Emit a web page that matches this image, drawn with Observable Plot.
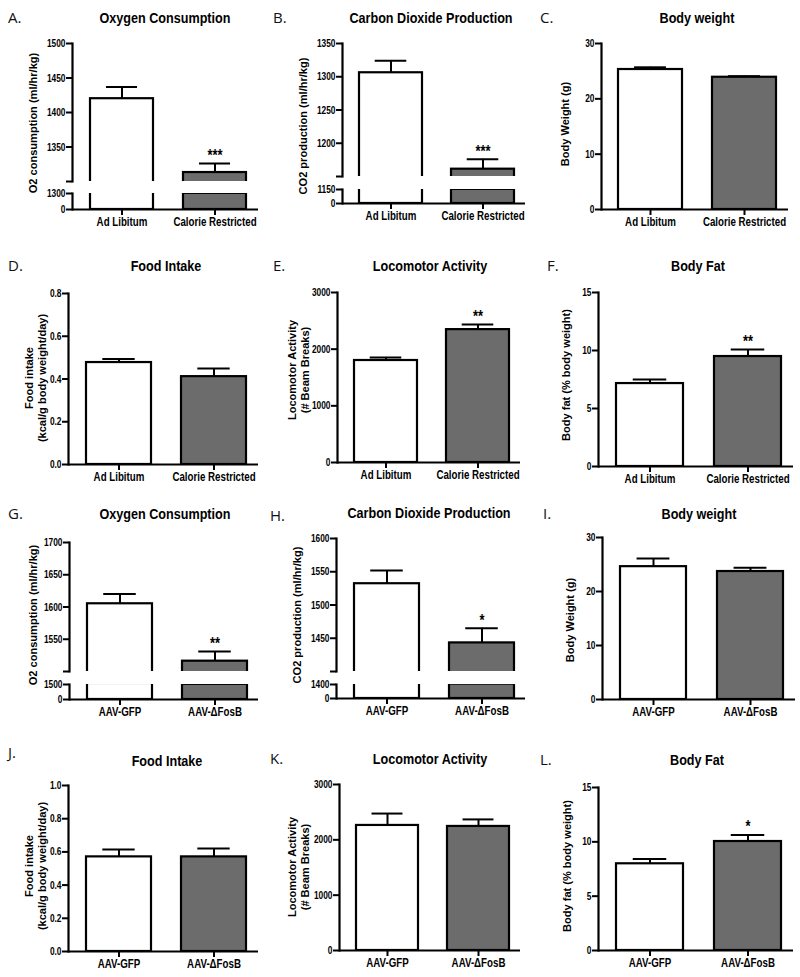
<!DOCTYPE html>
<html><head><meta charset="utf-8">
<script src="https://cdn.jsdelivr.net/npm/d3@7"></script>
<script src="https://cdn.jsdelivr.net/npm/@observablehq/plot@0.6"></script>
<style>
body{margin:0;background:#fff;}
#fig{position:relative;width:800px;height:977px;overflow:hidden;background:#fff;}
#fig svg{position:absolute;overflow:visible;}
#fig svg text{font-weight:bold;}
#fig svg g[aria-label$="tick"], #fig svg g[aria-label$="tick"] line, #fig svg g[aria-label$="tick"] path{stroke:#000 !important;stroke-width:2px !important;stroke-opacity:1 !important;}
.letter{position:absolute;font-family:"Open Sans",sans-serif;font-size:15px;color:#111;transform:translateY(-50%);white-space:nowrap;}
.title{position:absolute;font-family:"Liberation Sans",Arial,sans-serif;font-weight:bold;font-size:15px;white-space:nowrap;transform:translate(-50%,-50%) scaleX(0.84);color:#000;}
.ylab{position:absolute;font-family:"Liberation Sans",Arial,sans-serif;font-weight:bold;font-size:11.5px;line-height:13px;white-space:nowrap;text-align:center;transform:translate(-50%,-50%) rotate(-90deg) scaleX(0.96);color:#000;}
</style></head><body><div id="fig"></div>
<script>
// ---------- data ----------
const groupsCR = ["Ad Libitum", "Calorie Restricted"];
const groupsAAV = ["AAV-GFP", "AAV-\u0394FosB"];
const letters = ["A.","B.","C.","D.","E.","F.","G.","H.","I.","J.","K.","L."];
const titles = ["Oxygen Consumption","Carbon Dioxide Production","Body weight","Food Intake","Locomotor Activity","Body Fat",
                "Oxygen Consumption","Carbon Dioxide Production","Body weight","Food Intake","Locomotor Activity","Body Fat"];
const yLabels = [["O2 consumption (ml/hr/kg)"],["CO2 production (ml/hr/kg)"],["Body Weight (g)"],
                 ["Food intake","(kcal/g body weight/day)"],["Locomotor Activity","(# Beam Breaks)"],["Body fat (% body weight)"],
                 ["O2 consumption (ml/hr/kg)"],["CO2 production (ml/hr/kg)"],["Body Weight (g)"],
                 ["Food intake","(kcal/g body weight/day)"],["Locomotor Activity","(# Beam Breaks)"],["Body fat (% body weight)"]];

const o2CR = [1420, 1313],   o2CRsem = [17, 13],    sigO2CR = ["", "***"];
const co2CR = [1306, 1161],  co2CRsem = [18, 15],   sigCO2CR = ["", "***"];
const bwCR = [25.3, 23.9],   bwCRsem = [0.4, 0.2],  sigBwCR = ["", ""];
const foodCR = [0.477, 0.411], foodCRsem = [0.017, 0.038], sigFoodCR = ["", ""];
const locoCR = [1800, 2345], locoCRsem = [52, 90],  sigLocoCR = ["", "**"];
const fatCR = [7.15, 9.48],  fatCRsem = [0.35, 0.6], sigFatCR = ["", "**"];

const o2AAV = [1605, 1516],  o2AAVsem = [15, 15],   sigO2AAV = ["", "**"];
const co2AAV = [1532, 1443], co2AAVsem = [20, 22],  sigCO2AAV = ["", "*"];
const bwAAV = [24.6, 23.7],  bwAAVsem = [1.5, 0.7], sigBwAAV = ["", ""];
const foodAAV = [0.57, 0.57], foodAAVsem = [0.045, 0.05], sigFoodAAV = ["", ""];
const locoAAV = [2260, 2242], locoAAVsem = [215, 127], sigLocoAAV = ["", ""];
const fatAAV = [7.98, 10.03], fatAAVsem = [0.45, 0.6], sigFatAAV = ["", "*"];

const ticksO2CR = [0, 1300, 1350, 1400, 1450, 1500], breakO2CR = 1300;
const ticksCO2CR = [0, 1150, 1200, 1250, 1300, 1350], breakCO2CR = 1150;
const ticksO2AAV = [0, 1500, 1550, 1600, 1650, 1700], breakO2AAV = 1500;
const ticksCO2AAV = [0, 1400, 1450, 1500, 1550, 1600], breakCO2AAV = 1400;
const ticksBw = [0, 10, 20, 30];
const ticksFoodCR = [0, 0.2, 0.4, 0.6, 0.8];
const ticksFoodAAV = [0, 0.2, 0.4, 0.6, 0.8, 1.0];
const ticksLoco = [0, 1000, 2000, 3000];
const ticksFat = [0, 5, 10, 15];

const panels = [
  {groups: groupsCR, mean: o2CR, sem: o2CRsem, sig: sigO2CR, ticks: ticksO2CR, brk: breakO2CR, fmt: "d"},
  {groups: groupsCR, mean: co2CR, sem: co2CRsem, sig: sigCO2CR, ticks: ticksCO2CR, brk: breakCO2CR, fmt: "d"},
  {groups: groupsCR, mean: bwCR, sem: bwCRsem, sig: sigBwCR, ticks: ticksBw, brk: null, fmt: "d"},
  {groups: groupsCR, mean: foodCR, sem: foodCRsem, sig: sigFoodCR, ticks: ticksFoodCR, brk: null, fmt: ".1f"},
  {groups: groupsCR, mean: locoCR, sem: locoCRsem, sig: sigLocoCR, ticks: ticksLoco, brk: null, fmt: "d"},
  {groups: groupsCR, mean: fatCR, sem: fatCRsem, sig: sigFatCR, ticks: ticksFat, brk: null, fmt: "d"},
  {groups: groupsAAV, mean: o2AAV, sem: o2AAVsem, sig: sigO2AAV, ticks: ticksO2AAV, brk: breakO2AAV, fmt: "d"},
  {groups: groupsAAV, mean: co2AAV, sem: co2AAVsem, sig: sigCO2AAV, ticks: ticksCO2AAV, brk: breakCO2AAV, fmt: "d"},
  {groups: groupsAAV, mean: bwAAV, sem: bwAAVsem, sig: sigBwAAV, ticks: ticksBw, brk: null, fmt: "d"},
  {groups: groupsAAV, mean: foodAAV, sem: foodAAVsem, sig: sigFoodAAV, ticks: ticksFoodAAV, brk: null, fmt: ".1f"},
  {groups: groupsAAV, mean: locoAAV, sem: locoAAVsem, sig: sigLocoAAV, ticks: ticksLoco, brk: null, fmt: "d"},
  {groups: groupsAAV, mean: fatAAV, sem: fatAAVsem, sig: sigFatAAV, ticks: ticksFat, brk: null, fmt: "d"}
];

// ---------- layout (pixels) ----------
const colLefts = [0, 262, 530], colWidths = [262, 268, 270];
const layout = [
  {col:0, axisX:72,  xEnd:258, topY:43,  breakY:181, lowTopY:193, zeroY:209, title:[165,17],  letter:[8,17],   ylab:[33,123]},
  {col:1, axisX:342, xEnd:525, topY:43,  breakY:176, lowTopY:189, zeroY:203, title:[431,17],  letter:[273,17], ylab:[303,126]},
  {col:2, axisX:601, xEnd:788, topY:43,  zeroY:209, title:[697,17],  letter:[540,17], ylab:[565,124]},
  {col:0, axisX:68,  xEnd:258, topY:293, zeroY:464, title:[166,265], letter:[8,265],  ylab:[36,378]},
  {col:1, axisX:337, xEnd:520, topY:292, zeroY:462, title:[430,265], letter:[273,265], ylab:[299,370]},
  {col:2, axisX:598, xEnd:793, topY:292, zeroY:466, title:[698,265], letter:[547,265], ylab:[566,375]},
  {col:0, axisX:69,  xEnd:258, topY:542, breakY:671, lowTopY:684, zeroY:699, title:[165,513], letter:[8,513], ylab:[33,615]},
  {col:1, axisX:336, xEnd:525, topY:538, breakY:671, lowTopY:684, zeroY:698, title:[429,512], letter:[270,515], ylab:[297,615]},
  {col:2, axisX:602, xEnd:795, topY:537, zeroY:699, title:[699,513], letter:[543,513], ylab:[570,620]},
  {col:0, axisX:68,  xEnd:258, topY:785, zeroY:951, title:[167,760], letter:[8,752],  ylab:[36,866]},
  {col:1, axisX:339, xEnd:520, topY:784, zeroY:950, title:[430,758], letter:[270,758], ylab:[299,867]},
  {col:2, axisX:598, xEnd:793, topY:787, zeroY:950, title:[697,759], letter:[540,759], ylab:[567,866]}
];

const PI = 0.32, PO = 0.15, AL = 0.6;
const barFills = ["#ffffff", "#6c6c6c"];
const FONT = '"Liberation Sans",Arial,sans-serif';
const CONDENSE = 0.76;

const fig = document.getElementById("fig");
function addDiv(cls, html, x, y) {
  const d = document.createElement("div");
  d.className = cls; d.innerHTML = html;
  d.style.left = x + "px"; d.style.top = y + "px";
  fig.appendChild(d);
}
function place(svg, x, y) {
  svg.querySelectorAll("text").forEach(t => {
    const tr = t.getAttribute("transform") || "";
    t.setAttribute("transform", tr + ` scale(${CONDENSE},1)`);
  });
  svg.style.left = x + "px"; svg.style.top = y + "px";
  fig.appendChild(svg);
}

panels.forEach((P, i) => {
  const L = layout[i];
  const colLeft = colLefts[L.col], colW = colWidths[L.col];
  const data = P.groups.map((g, j) => ({g, v: P.mean[j], e: P.sem[j], s: P.sig[j]}));
  const frameW = L.xEnd - L.axisX;
  const step = frameW / (2 - PI + 2 * PO);
  const capInset = step * (1 - PI) / 4;
  const top = d3.max(P.ticks);
  const fmt = d3.format(P.fmt);
  const x = {type: "band", domain: P.groups, paddingInner: PI, paddingOuter: PO, align: AL};
  const color = {domain: P.groups, range: barFills};
  const bars = () => Plot.barY(data, {x: "g", y1: 0, y2: "v", fill: "g", stroke: "#000", strokeWidth: 2.2, clip: true});
  const errs = () => [
    Plot.ruleX(data, {x: "g", y1: "v", y2: d => d.v + d.e, stroke: "#000", strokeWidth: 2}),
    Plot.tickY(data, {x: "g", y: d => d.v + d.e, stroke: "#000", strokeWidth: 2, insetLeft: capInset, insetRight: capInset})
  ];
  const stars = () => Plot.text(data.filter(d => d.s), {x: "g", y: d => d.v + d.e, text: "s", dy: -8, fontSize: 17, fontWeight: "bold", fill: "#000"});
  const yAx = (ticks, f) => Plot.axisY({ticks, tickFormat: f, tickSize: 6, tickPadding: 1, strokeWidth: 2, fontSize: 11, label: null});
  const yLine = () => Plot.frame({anchor: "left", stroke: "#000", strokeWidth: 2.2});
  const xAx = () => Plot.axisX({tickSize: 6, tickPadding: 1.5, strokeWidth: 2, fontSize: 12.8, label: null});
  const xLine = () => Plot.ruleY([0], {stroke: "#000", strokeWidth: 2.2});
  const base = {width: colW, marginLeft: L.axisX - colLeft, marginRight: colLeft + colW - L.xEnd, color,
                style: {fontFamily: FONT, background: "transparent", overflow: "visible", color: "#000"}};
  if (P.brk == null) {
    const mt = 10, mb = 26;
    const svg = Plot.plot({...base, height: L.zeroY - L.topY + mt + mb, marginTop: mt, marginBottom: mb,
      x, y: {domain: [0, top]},
      marks: [bars(), ...errs(), stars(), yAx(P.ticks, fmt), xAx(), yLine(), xLine()]});
    place(svg, colLeft, L.topY - mt);
  } else {
    const mt = 10, mb = 4;
    const up = Plot.plot({...base, height: L.breakY - L.topY + mt + mb, marginTop: mt, marginBottom: mb,
      x: {...x, axis: null}, y: {domain: [P.brk, top]},
      marks: [bars(), ...errs(), stars(), yAx(P.ticks.filter(t => t >= P.brk), t => t === P.brk ? "" : fmt(t)), yLine()]});
    place(up, colLeft, L.topY - mt);
    const mt2 = 8, mb2 = 26;
    const lo = Plot.plot({...base, height: L.zeroY - L.lowTopY + mt2 + mb2, marginTop: mt2, marginBottom: mb2,
      x, y: {domain: [0, P.brk]},
      marks: [bars(), yAx([0, P.brk], fmt), xAx(), yLine(), xLine()]});
    place(lo, colLeft, L.lowTopY - mt2);
  }
  addDiv("letter", letters[i], L.letter[0], L.letter[1]);
  addDiv("title", titles[i], L.title[0], L.title[1]);
  addDiv("ylab", yLabels[i].join("<br>"), L.ylab[0], L.ylab[1]);
});
</script></body></html>
